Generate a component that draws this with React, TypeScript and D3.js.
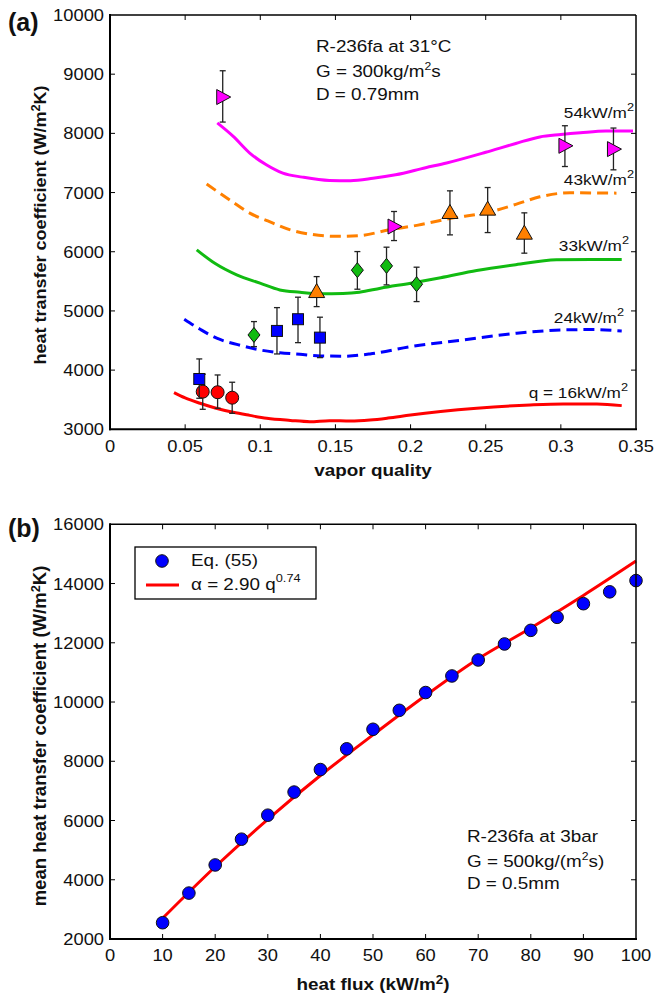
import React from "react";
import * as d3 from "d3";

// ---------- Panel (a) data ----------
const qLabels = ["54kW/m", "43kW/m", "33kW/m", "24kW/m", "q = 16kW/m"];
const curve54: [number, number][] = [[0.0714,8176],[0.082,7948],[0.093,7667],[0.104,7469],[0.115,7329],[0.128,7261],[0.146,7204],[0.16,7200],[0.175,7240],[0.19,7300],[0.21,7420],[0.224,7500],[0.25,7680],[0.27,7830],[0.286,7940],[0.3,7980],[0.313,8010],[0.33,8040],[0.348,8040]];
const curve43: [number, number][] = [[0.0643,7143],[0.08,6870],[0.093,6652],[0.105,6520],[0.12,6370],[0.135,6290],[0.15,6260],[0.165,6270],[0.186,6370],[0.205,6450],[0.226,6561],[0.253,6674],[0.27,6800],[0.286,6928],[0.306,6996],[0.337,6990]];
const curve33: [number, number][] = [[0.0577,6032],[0.07,5800],[0.0843,5609],[0.0998,5469],[0.113,5355],[0.1264,5316],[0.14,5290],[0.155,5295],[0.166,5316],[0.18,5384],[0.2,5469],[0.22,5560],[0.244,5682],[0.27,5780],[0.297,5863],[0.32,5870],[0.3405,5868]];
const curve24: [number, number][] = [[0.0494,4860],[0.06,4690],[0.071,4539],[0.085,4430],[0.0998,4341],[0.113,4295],[0.1264,4268],[0.14,4240],[0.155,4235],[0.173,4273],[0.2,4397],[0.235,4510],[0.2706,4623],[0.3016,4679],[0.32,4685],[0.3405,4662]];
const curve16: [number, number][] = [[0.0426,3619],[0.05,3530],[0.0599,3440],[0.07,3360],[0.082,3287],[0.093,3235],[0.1043,3186],[0.12,3150],[0.133,3129],[0.146,3146],[0.16,3140],[0.173,3157],[0.185,3190],[0.2,3242],[0.22,3300],[0.244,3355],[0.2795,3411],[0.3016,3428],[0.324,3428],[0.3405,3400]];

// experimental points: [x, value, errLow, errHigh]
const pts54: [number, number, number, number][] = [[0.075,8614,8191,9058],[0.189,6426,6189,6680],[0.3027,7790,7440,8129],[0.335,7734,7384,8090]];
const pts43: [number, number, number, number][] = [[0.1375,5327,5073,5580],[0.2262,6663,6285,7029],[0.2513,6720,6324,7085],[0.2757,6314,5976,6657]];
const pts33: [number, number, number, number][] = [[0.0958,4594,4397,4820],[0.1646,5689,5367,6003],[0.184,5761,5440,6077],[0.204,5452,5158,5739]];
const pts24: [number, number, number, number][] = [[0.0594,3850,3524,4189],[0.1111,4662,4273,5056],[0.1251,4860,4464,5232],[0.1397,4549,4211,4894]];
const pts16: [number, number, number, number][] = [[0.0617,3636,3338,3930],[0.0716,3626,3355,3918],[0.0813,3534,3270,3795]];

const aXTicks = [0, 0.05, 0.1, 0.15, 0.2, 0.25, 0.3, 0.35];
const aYTicks = [3000, 4000, 5000, 6000, 7000, 8000, 9000, 10000];

// ---------- Panel (b) data ----------
const bFlux = [10,15,20,25,30,35,40,45,50,55,60,65,70,75,80,85,90,95,100];
const bEq55 = [2550,3550,4500,5370,6180,6960,7720,8420,9080,9720,10320,10880,11420,11960,12420,12860,13320,13720,14100];
const bFitFlux = [10,20,30,40,50,60,70,80,90,100];
const bFitVal = [2700,4440,6040,7520,8890,10220,11460,12500,13600,14760];
const bXTicks = [0,10,20,30,40,50,60,70,80,90,100];
const bYTicks = [2000,4000,6000,8000,10000,12000,14000,16000];

const FONT = "Arial, 'Liberation Sans', Helvetica, sans-serif";
const C = { mag: "#ff00ff", ora: "#ff8000", grn: "#11bb11", blu: "#0000ff", red: "#ff0000" };
const SX = 1.11; // horizontal stretch of the original's lettering

const L = 110, R = 636;

function T({ x, y, size, anchor, weight, rotate, children }: any) {
  const tr = rotate ? `translate(${x},${y}) rotate(-90) scale(1.06,1)` : `translate(${x},${y}) scale(${SX},1)`;
  return (
    <text transform={tr} fontSize={size} textAnchor={anchor || "start"} fontWeight={weight || "normal"} fill="#111">
      {children}
    </text>
  );
}

function Marker({ type, x, y, fill }: { type: string; x: number; y: number; fill: string }) {
  const s = "#111";
  if (type === "tri-right") {
    return <path d={`M${x - 6},${y - 7.5} L${x + 8},${y} L${x - 6},${y + 7.5} Z`} fill={fill} stroke={s} strokeWidth={1} />;
  }
  if (type === "tri-up") {
    return <path d={`M${x},${y - 8} L${x + 8},${y + 6} L${x - 8},${y + 6} Z`} fill={fill} stroke={s} strokeWidth={1} />;
  }
  if (type === "diamond") {
    return <path d={`M${x},${y - 7.5} L${x + 6},${y} L${x},${y + 7.5} L${x - 6},${y} Z`} fill={fill} stroke={s} strokeWidth={1} />;
  }
  if (type === "square") {
    return <rect x={x - 5.5} y={y - 5.5} width={11} height={11} fill={fill} stroke={s} strokeWidth={1} />;
  }
  return <circle cx={x} cy={y} r={6.5} fill={fill} stroke={s} strokeWidth={1} />;
}

function Frame({ top, bottom }: { top: number; bottom: number }) {
  return (
    <g>
      <line x1={L} x2={R} y1={top} y2={top} stroke="#000" strokeWidth={1.5} />
      <line x1={R} x2={R} y1={top} y2={bottom} stroke="#000" strokeWidth={1.5} />
      <line x1={L} x2={L} y1={top - 1} y2={bottom + 1} stroke="#000" strokeWidth={2} />
      <line x1={L - 1} x2={R + 1} y1={bottom} y2={bottom} stroke="#000" strokeWidth={2} />
    </g>
  );
}

export default function App() {
  const ax = d3.scaleLinear().domain([0, 0.35]).range([L, R]);
  const ay = d3.scaleLinear().domain([3000, 10000]).range([429.3, 15]);
  const aLine = d3.line<[number, number]>().x(d => ax(d[0])).y(d => ay(d[1])).curve(d3.curveMonotoneX);

  const bx = d3.scaleLinear().domain([0, 100]).range([L, R]);
  const by = d3.scaleLinear().domain([2000, 16000]).range([939, 524.3]);
  const bLine = d3.line<number>().x((_, i) => bx(bFitFlux[i])).y(d => by(d)).curve(d3.curveMonotoneX);

  const curves = [
    { data: curve54, color: C.mag, dash: undefined },
    { data: curve43, color: C.ora, dash: "11 6" },
    { data: curve33, color: C.grn, dash: undefined },
    { data: curve24, color: C.blu, dash: "11 6" },
    { data: curve16, color: C.red, dash: undefined },
  ];
  const pointSets = [
    { data: pts16, type: "circle", color: C.red },
    { data: pts24, type: "square", color: C.blu },
    { data: pts33, type: "diamond", color: C.grn },
    { data: pts43, type: "tri-up", color: C.ora },
    { data: pts54, type: "tri-right", color: C.mag },
  ];
  const labelPos = [
    { x: 634, y: 118 },
    { x: 634, y: 185 },
    { x: 629, y: 251 },
    { x: 624, y: 323 },
    { x: 628, y: 398 },
  ];

  const tickLen = 5;
  const sup = (s: string, dy = 7, size = 11) => (
    <tspan dy={-dy} fontSize={size}>{s}</tspan>
  );
  return (
    <svg width={656} height={994} style={{ position: "absolute", left: 0, top: 0, background: "#fff" }} fontFamily={FONT}>
      {/* ================= Panel (a) ================= */}
      <text x={8} y={31} fontSize={25} fontWeight="bold" fill="#111">(a)</text>
      {aXTicks.map(t => (
        <g key={"axt" + t}>
          {t > 0 && t < 0.35 && <line x1={ax(t)} x2={ax(t)} y1={ay(3000)} y2={ay(3000) - tickLen} stroke="#000" strokeWidth={1} />}
          {t > 0 && t < 0.35 && <line x1={ax(t)} x2={ax(t)} y1={ay(10000)} y2={ay(10000) + tickLen} stroke="#000" strokeWidth={1} />}
          <T x={ax(t)} y={452} size={16.5} anchor="middle">{String(t)}</T>
        </g>
      ))}
      {aYTicks.map(t => (
        <g key={"ayt" + t}>
          {t > 3000 && t < 10000 && <line x1={L} x2={L + tickLen} y1={ay(t)} y2={ay(t)} stroke="#000" strokeWidth={1} />}
          {t > 3000 && t < 10000 && <line x1={R} x2={R - tickLen} y1={ay(t)} y2={ay(t)} stroke="#000" strokeWidth={1} />}
          <T x={104} y={ay(t) + 6} size={16.5} anchor="end">{t}</T>
        </g>
      ))}
      {curves.map((c, i) => (
        <path key={"ac" + i} d={aLine(c.data) || ""} fill="none" stroke={c.color} strokeWidth={3} strokeDasharray={c.dash} />
      ))}
      {pointSets.map((ps, i) => (
        <g key={"ap" + i}>
          {ps.data.map((p, j) => (
            <g key={j}>
              <line x1={ax(p[0])} x2={ax(p[0])} y1={ay(p[2])} y2={ay(p[3])} stroke="#222" strokeWidth={1.3} />
              <line x1={ax(p[0]) - 3} x2={ax(p[0]) + 3} y1={ay(p[2])} y2={ay(p[2])} stroke="#222" strokeWidth={1.3} />
              <line x1={ax(p[0]) - 3} x2={ax(p[0]) + 3} y1={ay(p[3])} y2={ay(p[3])} stroke="#222" strokeWidth={1.3} />
            </g>
          ))}
          {ps.data.map((p, j) => (
            <Marker key={"m" + j} type={ps.type} x={ax(p[0])} y={ay(p[1])} fill={ps.color} />
          ))}
        </g>
      ))}
      {qLabels.map((lab, i) => (
        <T key={"ql" + i} x={labelPos[i].x} y={labelPos[i].y} size={15.5} anchor="end">
          {lab}
          {sup("2", 7, 11.5)}
        </T>
      ))}
      <T x={316} y={52} size={17}>R-236fa at 31°C</T>
      <T x={316} y={77} size={17}>G = 300kg/m{sup("2")}<tspan dy={7}>s</tspan></T>
      <T x={316} y={100} size={17}>D = 0.79mm</T>
      <T x={373} y={476} size={17} anchor="middle" weight="bold">vapor quality</T>
      <T x={46} y={225} size={17} anchor="middle" weight="bold" rotate>
        heat transfer coefficient (W/m{sup("2", 6, 12)}<tspan dy={6}>K)</tspan>
      </T>
      <Frame top={ay(10000)} bottom={ay(3000)} />

      {/* ================= Panel (b) ================= */}
      <text x={8} y={537} fontSize={25} fontWeight="bold" fill="#111">(b)</text>
      {bXTicks.map(t => (
        <g key={"bxt" + t}>
          {t > 0 && t < 100 && <line x1={bx(t)} x2={bx(t)} y1={by(2000)} y2={by(2000) - tickLen} stroke="#000" strokeWidth={1} />}
          {t > 0 && t < 100 && <line x1={bx(t)} x2={bx(t)} y1={by(16000)} y2={by(16000) + tickLen} stroke="#000" strokeWidth={1} />}
          <T x={bx(t)} y={961} size={16.5} anchor="middle">{t}</T>
        </g>
      ))}
      {bYTicks.map(t => (
        <g key={"byt" + t}>
          {t > 2000 && t < 16000 && <line x1={L} x2={L + tickLen} y1={by(t)} y2={by(t)} stroke="#000" strokeWidth={1} />}
          {t > 2000 && t < 16000 && <line x1={R} x2={R - tickLen} y1={by(t)} y2={by(t)} stroke="#000" strokeWidth={1} />}
          <T x={104} y={by(t) + 6} size={16.5} anchor="end">{t}</T>
        </g>
      ))}
      <path d={bLine(bFitVal) || ""} fill="none" stroke={C.red} strokeWidth={3} />
      {bEq55.map((v, i) => (
        <circle key={"bp" + i} cx={bx(bFlux[i])} cy={by(v)} r={6.3} fill={C.blu} stroke="#111" strokeWidth={1} />
      ))}
      <rect x={135} y={547} width={181} height={52} fill="#fff" stroke="#000" strokeWidth={1.3} />
      <circle cx={162} cy={561} r={6.3} fill={C.blu} stroke="#111" strokeWidth={1} />
      <T x={191} y={566} size={17}>Eq. (55)</T>
      <line x1={146} x2={179} y1={585} y2={585} stroke={C.red} strokeWidth={3} />
      <T x={191} y={590} size={17}>α = 2.90 q{sup("0.74", 8, 11.5)}</T>
      <T x={467} y={842} size={17}>R-236fa at 3bar</T>
      <T x={467} y={867} size={17}>G = 500kg/(m{sup("2")}<tspan dy={7}>s)</tspan></T>
      <T x={467} y={889} size={17}>D = 0.5mm</T>
      <T x={373} y={990} size={17} anchor="middle" weight="bold">
        heat flux (kW/m{sup("2", 6, 12)}<tspan dy={6}>)</tspan>
      </T>
      <T x={46} y={736} size={17.5} anchor="middle" weight="bold" rotate>
        mean heat transfer coefficient (W/m{sup("2", 6, 12)}<tspan dy={6}>K)</tspan>
      </T>
      <Frame top={by(16000)} bottom={by(2000)} />
    </svg>
  );
}
